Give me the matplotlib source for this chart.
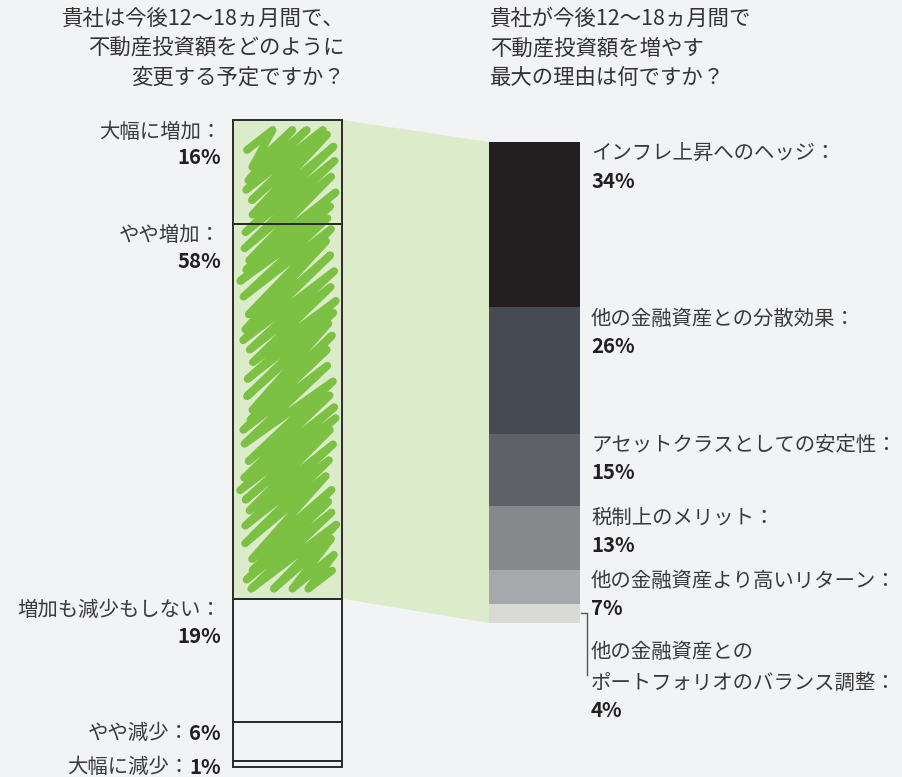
import numpy as np
import matplotlib
matplotlib.use("Agg")
import matplotlib.pyplot as plt
from matplotlib.patches import Polygon

plt.rcParams['font.family'] = ['Noto Sans CJK JP', 'DejaVu Sans']

# --- data -------------------------------------------------------------
left_title = "貴社は今後12～18ヵ月間で、\n不動産投資額をどのように\n変更する予定ですか？"
right_title = "貴社が今後12～18ヵ月間で\n不動産投資額を増やす\n最大の理由は何ですか？"

left_labels = ["大幅に増加", "やや増加", "増加も減少もしない", "やや減少", "大幅に減少"]
left_values = [16, 58, 19, 6, 1]
left_inline = [False, False, False, True, True]
left_highlight = [True, True, False, False, False]

right_labels = ["インフレ上昇へのヘッジ", "他の金融資産との分散効果",
                "アセットクラスとしての安定性", "税制上のメリット",
                "他の金融資産より高いリターン",
                "他の金融資産との\nポートフォリオのバランス調整"]
right_values = [34, 26, 15, 13, 7, 4]
right_colors = ["#231f20", "#464a52", "#5e6168", "#86888c", "#a6a8ab", "#d9d9d6"]

# --- style ------------------------------------------------------------
BG = "#f2f3f5"
TXT = "#3a3a3a"
BOLD = "#231f20"
GREEN = "#7cc143"
GREEN_LIGHT = "#dcebc9"
FS = 14.7
FS_TITLE = 15.4

fig = plt.figure(figsize=(9.03, 7.77), dpi=100, facecolor=BG)
ax = fig.add_axes([0, 0, 1, 1])
ax.set_xlim(0, 903)
ax.set_ylim(777, 0)
ax.axis("off")
ax.set_facecolor(BG)

# layout of the two columns (pixel frame of the axes)
L_X0, L_W, L_TOP, L_H = 233, 109, 120, 647
R_X0, R_W, R_TOP, R_H = 489, 91, 142, 481
kL = L_H / sum(left_values)
kR = R_H / sum(right_values)

# --- left column ------------------------------------------------------
l_bottoms = L_TOP + np.concatenate([[0], np.cumsum(left_values)[:-1]]) * kL
l_heights = np.array(left_values) * kL
fills = [GREEN_LIGHT if h else "none" for h in left_highlight]
ax.bar(L_X0 + L_W / 2, l_heights, bottom=l_bottoms, width=L_W,
       color=fills, edgecolor="none", zorder=1)
ax.bar(L_X0 + L_W / 2, l_heights, bottom=l_bottoms, width=L_W,
       fill=False, edgecolor="#2b2b2b", linewidth=1.4, zorder=4)

# hand-drawn scribble over the highlighted part
hi_top = L_TOP
hi_bot = L_TOP + sum(v for v, h in zip(left_values, left_highlight) if h) * kL
ymin, ymax = hi_top + 10, hi_bot - 10
rise = 68
pitch = 13.5
pts = []
for i, y in enumerate(np.arange(hi_top - rise + 30, hi_bot - 25, pitch)):
    xl = L_X0 + 14 + 4 * np.sin(i * 1.7) + 3 * np.sin(i * 0.45)
    xr = L_X0 + L_W - 11 + 3 * np.cos(i * 2.3) - 3 * np.sin(i * 0.7)
    yl = y + rise + 4 * np.sin(i * 1.1)
    yr = y + 3 * np.sin(i * 0.9)
    L = np.array([xl, yl])
    R = np.array([xr, yr])
    # keep each stroke inside the highlighted block
    if R[1] < ymin:
        t = (L[1] - ymin) / (L[1] - R[1])
        R = L + t * (R - L)
    if L[1] > ymax:
        t = (L[1] - ymax) / (L[1] - R[1])
        L = L + t * (R - L)
    pts.extend([L, R])
pts = np.array(pts)
ax.plot(pts[:, 0], pts[:, 1], color=GREEN, linewidth=5.6,
        solid_capstyle="round", solid_joinstyle="round", zorder=2)

# connector between the columns
ax.add_patch(Polygon([(L_X0 + L_W, L_TOP), (R_X0, R_TOP),
                      (R_X0, R_TOP + R_H), (L_X0 + L_W, hi_bot)],
                     closed=True, facecolor=GREEN_LIGHT, edgecolor="none",
                     zorder=0))

# left labels
lx = 221
for lab, val, top, inline in zip(left_labels, left_values, l_bottoms, left_inline):
    if inline:
        y = min(top + 12, L_TOP + L_H)
        pct = ax.text(lx, y, f"{val}%", ha="right", va="center",
                      fontsize=FS, fontweight="bold", color=BOLD)
        ax.annotate(lab + "：", xy=(0, 0.5), xycoords=pct, ha="right",
                    va="center", fontsize=FS, color=TXT)
    else:
        ax.text(lx, top + 12, lab + "：", ha="right", va="center",
                fontsize=FS, color=TXT)
        ax.text(lx, top + 38, f"{val}%", ha="right", va="center",
                fontsize=FS, fontweight="bold", color=BOLD)

# --- right column -----------------------------------------------------
r_bottoms = R_TOP + np.concatenate([[0], np.cumsum(right_values)[:-1]]) * kR
r_heights = np.array(right_values) * kR
ax.bar(R_X0 + R_W / 2, r_heights, bottom=r_bottoms, width=R_W,
       color=right_colors, edgecolor="none", zorder=1)

rx = 591
for i, (lab, val, top, h) in enumerate(zip(right_labels, right_values,
                                             r_bottoms, r_heights)):
    lines = lab.split("\n")
    if len(lines) == 1:
        ax.text(rx, top + 12, lab + "：", ha="left", va="center",
                fontsize=FS, color=TXT)
        ax.text(rx, top + 39, f"{val}%", ha="left", va="center",
                fontsize=FS, fontweight="bold", color=BOLD)
    else:
        # small bracket leading the last label down below the bar
        ym = top + h / 2
        ax.plot([R_X0 + R_W + 1, R_X0 + R_W + 7, R_X0 + R_W + 7],
                [ym, ym, ym + 62], color="#555555", linewidth=1.0, zorder=3)
        y0 = ym + 39
        for j, ln in enumerate(lines):
            suffix = "：" if j == len(lines) - 1 else ""
            ax.text(rx, y0 + 31 * j, ln + suffix, ha="left", va="center",
                    fontsize=FS, color=TXT)
        ax.text(rx, y0 + 31 * len(lines) - 4, f"{val}%", ha="left",
                va="center", fontsize=FS, fontweight="bold", color=BOLD)

# --- titles -----------------------------------------------------------
for j, ln in enumerate(left_title.split("\n")):
    ax.text(345, 19 + 29.5 * j, ln, ha="right", va="center",
            fontsize=FS_TITLE, color="#333333")
for j, ln in enumerate(right_title.split("\n")):
    ax.text(490, 19 + 29.5 * j, ln, ha="left", va="center",
            fontsize=FS_TITLE, color="#333333")

fig.savefig("out.png", dpi=100, facecolor=BG)
